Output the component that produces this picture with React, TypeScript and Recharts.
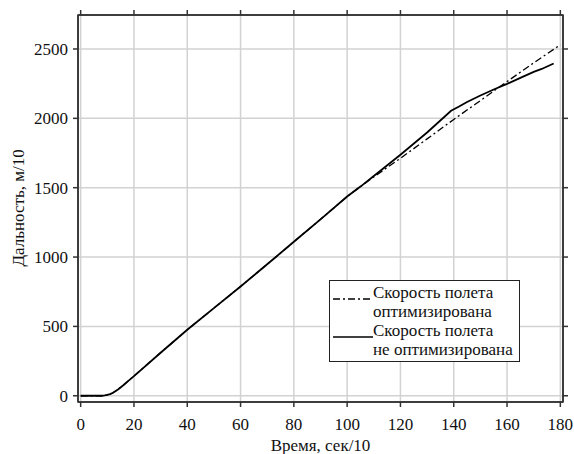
import React from "react";
import { LineChart, Line, XAxis, YAxis, CartesianGrid, ReferenceArea } from "recharts";

// ==================== DATA ====================
const timeOpt = [0, 5, 8, 9, 10, 11, 12, 14, 16, 18, 20, 30, 40, 50, 60, 70, 80, 90, 100, 105, 110, 120, 130, 140, 150, 160, 170, 180];
const distOpt = [0, 0, 0, 2, 6, 12, 20, 45, 76, 109, 142, 310, 476, 632, 788, 948, 1110, 1272, 1436, 1508, 1578, 1712, 1852, 1992, 2128, 2265, 2400, 2530];

const timeBase = [0, 5, 8, 9, 10, 11, 12, 14, 16, 18, 20, 30, 40, 50, 60, 70, 80, 90, 100, 105, 110, 120, 130, 139, 142, 145, 150, 155, 160, 165, 170, 173, 177.5];
const distBase = [0, 0, 0, 2, 6, 12, 20, 45, 76, 109, 142, 310, 476, 632, 788, 948, 1110, 1272, 1436, 1508, 1584, 1738, 1898, 2055, 2085, 2118, 2165, 2208, 2248, 2292, 2335, 2356, 2395];

const xTicks = [0, 20, 40, 60, 80, 100, 120, 140, 160, 180];
const yTicks = [0, 500, 1000, 1500, 2000, 2500];
const xDomain = [-1, 181];
const yDomain = [-45, 2745];

const seriesNames = ["Скорость полета\nоптимизирована", "Скорость полета\nне оптимизирована"];

const optData = timeOpt.map((t, i) => ({ x: t, y: distOpt[i] }));
const baseData = timeBase.map((t, i) => ({ x: t, y: distBase[i] }));

const FONT = "'Liberation Serif', 'Times New Roman', serif";
const DASH = "7 3 2 3";

function LegendBox() {
  const rows = [
    { name: seriesNames[0], dash: DASH, width: 1.3 },
    { name: seriesNames[1], dash: undefined, width: 1.6 },
  ];
  return (
    <div
      style={{
        position: "absolute",
        left: 329,
        top: 280,
        border: "1.5px solid #222",
        background: "white",
        padding: "2px 6px 2px 3px",
        fontFamily: FONT,
        fontSize: 17,
        lineHeight: "19px",
        color: "#111",
      }}
    >
      {rows.map((r) => (
        <div key={r.name} style={{ display: "flex", alignItems: "flex-start" }}>
          <svg width={40} height={19} style={{ flexShrink: 0 }}>
            <line x1={0} x2={40} y1={16} y2={16} stroke="#000" strokeWidth={r.width} strokeDasharray={r.dash} />
          </svg>
          <div style={{ whiteSpace: "pre" }}>{r.name}</div>
        </div>
      ))}
    </div>
  );
}

export default function App() {
  return (
    <div style={{ position: "absolute", left: 0, top: 0, width: 574, height: 454, overflow: "hidden", background: "white" }}>
      <LineChart
        width={574}
        height={454}
        margin={{ top: 14, right: 10, bottom: 0, left: 18 }}
        style={{ fontFamily: FONT }}
      >
        <CartesianGrid stroke="#d2d2d2" strokeWidth={1.5} />
        <XAxis
          type="number"
          dataKey="x"
          domain={xDomain}
          ticks={xTicks}
          allowDataOverflow
          stroke="#333"
          strokeWidth={1.5}
          tickSize={5}
          tickMargin={11}
          tick={{ fill: "#111", fontSize: 17, fontFamily: FONT }}
          height={52}
          label={{ value: "Время, сек/10", position: "insideBottom", offset: 3, fill: "#111", fontSize: 17, fontFamily: FONT }}
        />
        <XAxis
          xAxisId="t"
          orientation="top"
          type="number"
          dataKey="x"
          domain={xDomain}
          ticks={xTicks}
          allowDataOverflow
          stroke="#333"
          strokeWidth={1.5}
          tickSize={5}
          tickFormatter={() => ""}
          height={1}
        />
        <YAxis
          type="number"
          dataKey="y"
          domain={yDomain}
          ticks={yTicks}
          allowDataOverflow
          stroke="#333"
          strokeWidth={1.5}
          tickSize={5}
          tickMargin={5}
          tick={{ fill: "#111", fontSize: 17, fontFamily: FONT }}
          width={60}
          label={{ value: "Дальность, м/10", angle: -90, position: "insideLeft", offset: 0, dy: 58, fill: "#111", fontSize: 17, fontFamily: FONT }}
        />
        <YAxis
          yAxisId="r"
          orientation="right"
          type="number"
          dataKey="y"
          domain={yDomain}
          ticks={yTicks}
          allowDataOverflow
          stroke="#333"
          strokeWidth={1.5}
          tickSize={5}
          tickFormatter={() => ""}
          width={1}
        />
        {/* plot frame */}
        <ReferenceArea
          x1={xDomain[0]}
          x2={xDomain[1]}
          y1={yDomain[0]}
          y2={yDomain[1]}
          fill="none"
          stroke="#333"
          strokeWidth={1.5}
          ifOverflow="visible"
        />
        {/* invisible series so the top/right frame axes get registered */}
        <Line
          xAxisId="t"
          yAxisId="r"
          data={optData}
          dataKey="y"
          stroke="none"
          dot={false}
          isAnimationActive={false}
        />
        <Line
          data={optData}
          dataKey="y"
          type="linear"
          stroke="#000"
          strokeWidth={1.3}
          strokeDasharray={DASH}
          dot={false}
          isAnimationActive={false}
        />
        <Line
          data={baseData}
          dataKey="y"
          type="linear"
          stroke="#000"
          strokeWidth={1.8}
          dot={false}
          isAnimationActive={false}
        />
      </LineChart>
      <LegendBox />
    </div>
  );
}
